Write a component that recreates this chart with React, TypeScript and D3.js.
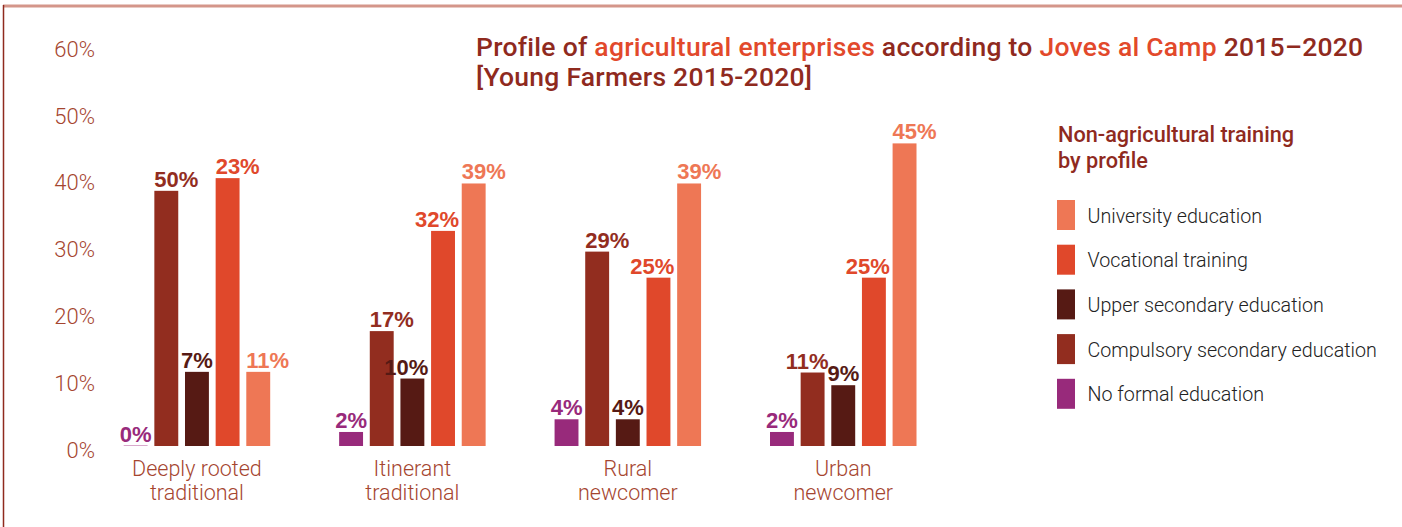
import React from "react";
import * as d3 from "d3";

const categories = ["Deeply rooted|traditional", "Itinerant|traditional", "Rural|newcomer", "Urban|newcomer"];
const seriesNames = [
  "No formal education",
  "Compulsory secondary education",
  "Upper secondary education",
  "Vocational training",
  "University education",
];
const seriesColors = ["#982a7b", "#922d1f", "#561a14", "#e0482b", "#ee7755"];
// bar heights (%) as drawn
const noFormal = [0, 2.1, 4.0, 2.1];
const compulsory = [38.2, 17.2, 29.1, 11.0];
const upperSecondary = [11.1, 10.1, 4.0, 9.1];
const vocational = [40.1, 32.2, 25.2, 25.2];
const university = [11.1, 39.3, 39.3, 45.3];
// labels as printed
const noFormalLabels = ["0%", "2%", "4%", "2%"];
const compulsoryLabels = ["50%", "17%", "29%", "11%"];
const upperSecondaryLabels = ["7%", "10%", "4%", "9%"];
const vocationalLabels = ["23%", "32%", "25%", "25%"];
const universityLabels = ["11%", "39%", "39%", "45%"];
const yTicks = [0, 10, 20, 30, 40, 50, 60];
const legendOrder = [4, 3, 2, 1, 0];

const values = [noFormal, compulsory, upperSecondary, vocational, university];
const labels = [noFormalLabels, compulsoryLabels, upperSecondaryLabels, vocationalLabels, universityLabels];

const DARK = "#8f2a1e";
const HI = "#e2492b";
const AXIS = "#a5452f";
const LIGHT_FONT = "Roboto, 'Liberation Sans', Arial, sans-serif";
const MED_FONT = "Roboto, 'Liberation Sans', Arial, sans-serif";
const BOLD_FONT = "'Liberation Sans', Arial, sans-serif";

export default function App() {
  const W = 1402, H = 527;
  const y = d3.scaleLinear().domain([0, 60]).range([446, 45.2]);
  const x0 = d3.scaleBand<number>().domain(d3.range(categories.length)).range([123.7, 916.5]).paddingInner(0.32).paddingOuter(0);
  const x1 = d3.scaleBand<number>().domain(d3.range(seriesNames.length)).range([0, x0.bandwidth()]).paddingInner(0.22).paddingOuter(0);

  return (
    <svg width={W} height={H} style={{ position: "absolute", left: 0, top: 0, background: "#fff" }}>
      <line x1={3} x2={W} y1={6} y2={6} stroke="#d4968a" strokeWidth={3} />
      <line x1={3.5} x2={3.5} y1={5} y2={H} stroke={DARK} strokeWidth={1.5} />

      <text x={476} y={56} fontFamily={MED_FONT} fontWeight={500} fontSize={26.5} letterSpacing={0.25} fill={DARK}>
        <tspan>Profile of </tspan>
        <tspan fill={HI}>agricultural enterprises</tspan>
        <tspan> according to </tspan>
        <tspan fill={HI}>Joves al Camp</tspan>
        <tspan> 2015–2020</tspan>
      </text>
      <text x={476} y={86} fontFamily={MED_FONT} fontWeight={500} fontSize={26.5} letterSpacing={0.25} fill={DARK}>
        [Young Farmers 2015-2020]
      </text>

      {yTicks.map((t) => (
        <text key={t} x={95} y={y(t) + 4} textAnchor="end" dominantBaseline="central" fontFamily={LIGHT_FONT} fontWeight={300} fontSize={22} fill={AXIS}>
          {t}%
        </text>
      ))}

      {categories.map((c, ci) => {
        const gx = x0(ci)!;
        const lines = c.split("|");
        return (
          <g key={c}>
            {values.map((vals, si) => {
              const v = vals[ci];
              const bx = gx + x1(si)!;
              const bw = x1.bandwidth();
              const top = y(v);
              const next = si < values.length - 1 ? values[si + 1][ci] : null;
              const rightAlign = next !== null && next > v - 3;
              return (
                <g key={si}>
                  {v > 0 ? (
                    <rect x={bx} y={top} width={bw} height={y(0) - top} fill={seriesColors[si]} />
                  ) : (
                    <line x1={bx} x2={bx + bw} y1={y(0) - 0.5} y2={y(0) - 0.5} stroke="#d9a9cc" strokeWidth={1} />
                  )}
                  <text
                    x={rightAlign ? bx + bw + 4 : bx}
                    y={top - 4}
                    textAnchor={rightAlign ? "end" : "start"}
                    fontFamily={BOLD_FONT}
                    fontWeight={700}
                    fontSize={22}
                    fill={seriesColors[si]}
                  >
                    {labels[si][ci]}
                  </text>
                </g>
              );
            })}
            {lines.map((l, li) => (
              <text key={li} x={gx + x0.bandwidth() / 2} y={468 + li * 24} textAnchor="middle" dominantBaseline="central" fontFamily={LIGHT_FONT} fontWeight={300} fontSize={21.5} fill={AXIS}>
                {l}
              </text>
            ))}
          </g>
        );
      })}

      <text x={1058} y={142} fontFamily={MED_FONT} fontWeight={500} fontSize={21.7} fill={DARK}>Non-agricultural training</text>
      <text x={1058} y={168} fontFamily={MED_FONT} fontWeight={500} fontSize={21.7} fill={DARK}>by profile</text>
      {legendOrder.map((si, i) => (
        <g key={si} transform={`translate(1057, ${200 + i * 44.7})`}>
          <rect x={0} y={0} width={18} height={30} fill={seriesColors[si]} />
          <text x={30.5} y={16} dominantBaseline="central" fontFamily={LIGHT_FONT} fontWeight={300} fontSize={19.7} fill="#222">
            {seriesNames[si]}
          </text>
        </g>
      ))}
    </svg>
  );
}
